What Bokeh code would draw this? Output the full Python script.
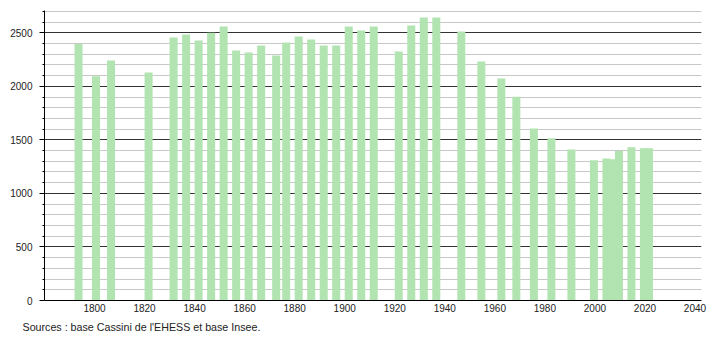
from bokeh.plotting import figure
from bokeh.models import Range1d, ColumnDataSource, FixedTicker, Title
from bokeh.transform import dodge
from bokeh.embed import file_html
from bokeh.resources import INLINE

years = [1793, 1800, 1806, 1821, 1831, 1836, 1841, 1846, 1851, 1856,
         1861, 1866, 1872, 1876, 1881, 1886, 1891, 1896, 1901, 1906,
         1911, 1921, 1926, 1931, 1936, 1946, 1954, 1962, 1968, 1975,
         1982, 1990, 1999, 2004, 2006, 2009, 2014, 2019, 2021]
population = [2395, 2095, 2240, 2130, 2456, 2484, 2428, 2500, 2559, 2335,
              2316, 2382, 2288, 2410, 2466, 2438, 2382, 2382, 2559, 2521,
              2559, 2326, 2568, 2643, 2643, 2512, 2232, 2074, 1903, 1607,
              1514, 1411, 1309, 1327, 1318, 1396, 1430, 1421, 1421]
x_ticks = [1800, 1820, 1840, 1860, 1880, 1900, 1920, 1940, 1960, 1980, 2000, 2020, 2040]
y_ticks = [0, 500, 1000, 1500, 2000, 2500]
source_text = "Sources : base Cassini de l'EHESS et base Insee."

src = ColumnDataSource(data=dict(year=years, pop=population))

p = figure(width=710, height=340, output_backend="svg", toolbar_location=None,
           x_range=Range1d(1780, 2042.6), y_range=Range1d(0, 2708),
           min_border_left=44, min_border_right=9, min_border_top=10,
           min_border_bottom=40)
p.outline_line_color = None
p.background_fill_color = "white"
p.border_fill_color = "white"

p.vbar(x=dodge("year", 0.6), top="pop", width=3.2, source=src,
       fill_color="#b1e4b1", line_color=None)

# grids
p.xgrid.visible = False
p.ygrid.ticker = FixedTicker(ticks=y_ticks, minor_ticks=list(range(0, 2701, 100)))
p.ygrid.grid_line_color = "#333333"
p.ygrid.grid_line_width = 1
p.ygrid.minor_grid_line_color = "#c8c8c8"
p.ygrid.minor_grid_line_width = 1

# y axis
p.yaxis.ticker = FixedTicker(ticks=y_ticks, minor_ticks=list(range(0, 2701, 100)))
p.yaxis.axis_line_color = "black"
p.yaxis.major_tick_out = 5
p.yaxis.major_tick_in = 0
p.yaxis.minor_tick_out = 2
p.yaxis.minor_tick_in = 0
p.yaxis.major_label_standoff = 7
p.yaxis.major_label_text_font = "Liberation Sans"
p.yaxis.major_label_text_font_size = "10px"
p.yaxis.major_label_text_color = "#222222"

# x axis
p.xaxis.ticker = FixedTicker(ticks=x_ticks)
p.xaxis.axis_line_color = "black"
p.xaxis.major_tick_out = 0
p.xaxis.major_tick_in = 0
p.xaxis.minor_tick_out = 0
p.xaxis.minor_tick_in = 0
p.xaxis.major_label_standoff = 3
p.xaxis.major_label_text_font = "Liberation Sans"
p.xaxis.major_label_text_font_size = "10px"
p.xaxis.major_label_text_color = "#222222"

t = Title(text=source_text, align="left", offset=-22, standoff=9,
          text_font="Liberation Sans", text_font_size="10.7px",
          text_font_style="normal", text_color="#222222")
p.add_layout(t, "below")

open("out.html", "w").write(file_html(p, INLINE))
